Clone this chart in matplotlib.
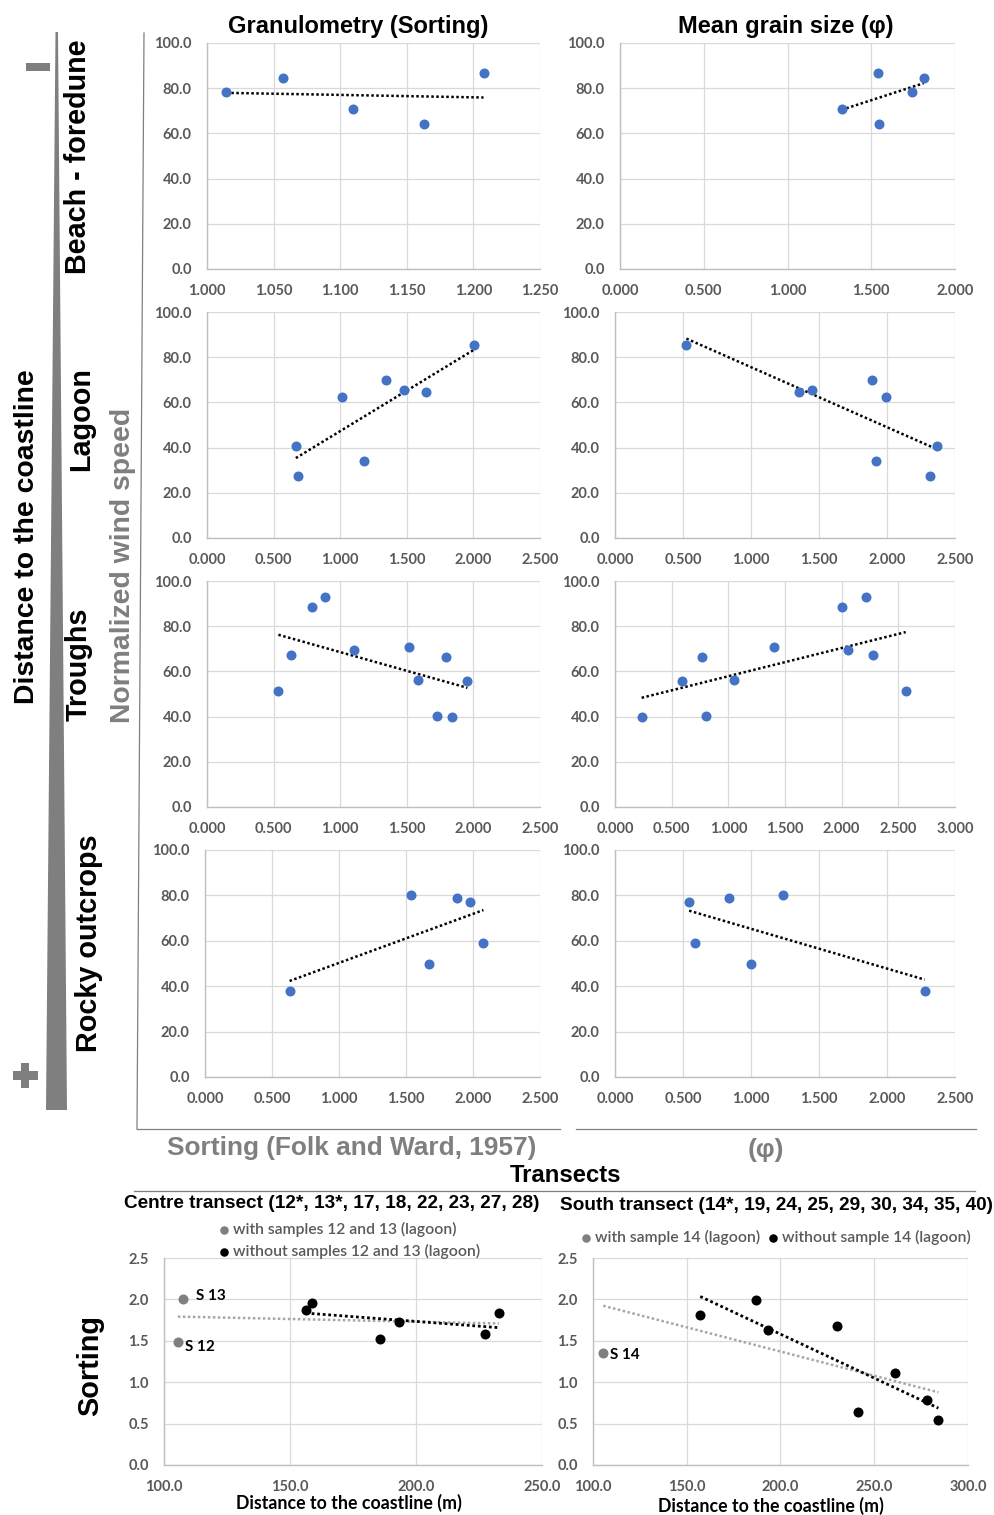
import numpy as np
import matplotlib
matplotlib.use('Agg')
import matplotlib.pyplot as plt
from matplotlib.patches import Polygon, Rectangle
from matplotlib.lines import Line2D

plt.rcParams['font.family'] = ['Liberation Sans', 'DejaVu Sans']

# ---- data: normalized wind speed vs sorting / mean grain size ----
beach_wind = [78.2, 84.7, 70.9, 64.2, 86.6]
beach_sort = [1.0145, 1.0574, 1.1094, 1.1631, 1.2076]
beach_mean = [1.745, 1.813, 1.323, 1.546, 1.538]

lagoon_wind = [40.7, 27.6, 62.5, 34.2, 70.1, 65.3, 64.6, 85.4]
lagoon_sort = [0.667, 0.680, 1.012, 1.178, 1.347, 1.477, 1.646, 2.002]
lagoon_mean = [2.368, 2.316, 1.990, 1.919, 1.890, 1.451, 1.350, 0.525]

trough_wind = [51.2, 67.4, 88.3, 92.9, 69.3, 70.8, 56.2, 40.3, 66.5, 39.7, 55.8]
trough_sort = [0.536, 0.628, 0.786, 0.883, 1.105, 1.516, 1.583, 1.725, 1.797, 1.837, 1.955]
trough_mean = [2.565, 2.276, 2.006, 2.215, 2.053, 1.406, 1.047, 0.800, 0.768, 0.235, 0.591]

rocky_wind = [37.9, 80.1, 50.0, 78.9, 77.2, 59.1]
rocky_sort = [0.631, 1.537, 1.674, 1.880, 1.979, 2.078]
rocky_mean = [2.277, 1.237, 1.001, 0.837, 0.545, 0.591]

# ---- transects: sorting vs distance to coastline ----
centre_lag_dist = [105.5, 107.6]
centre_lag_sort = [1.481, 2.006]
centre_lag_names = ['S 12', 'S 13']
centre_dist = [156.4, 158.6, 185.8, 193.1, 227.5, 232.9]
centre_sort = [1.877, 1.962, 1.517, 1.727, 1.586, 1.841]

south_lag_dist = [105.5]
south_lag_sort = [1.351]
south_lag_names = ['S 14']
south_dist = [157.2, 186.9, 193.5, 230.3, 241.2, 261.2, 278.0, 284.2]
south_sort = [1.806, 1.988, 1.625, 1.677, 0.637, 1.113, 0.790, 0.540]

BLUE = '#4472C4'
TICK = '#595959'
GRID = '#d9d9d9'
GREY = '#7f7f7f'

W, H = 995, 1515
fig = plt.figure(figsize=(W/100, H/100), dpi=100, facecolor='white')


def fx(x):
    return x / W


def fy(y):
    return 1 - y / H


def px_axes(l, t, r, b):
    return fig.add_axes([l/W, 1 - b/H, (r - l)/W, (b - t)/H])


def style_axes(ax, xticks, xfmt, yticks, yfmt, fs=10.5):
    ax.set_xticks(xticks, labels=[xfmt.format(v) for v in xticks],
                  fontfamily='Lato', fontweight='bold', fontsize=fs, color=TICK)
    ax.set_yticks(yticks, labels=[yfmt.format(v) for v in yticks],
                  fontfamily='Lato', fontweight='bold', fontsize=fs, color=TICK)
    ax.set_xlim(xticks[0], xticks[-1])
    ax.set_ylim(yticks[0], yticks[-1])
    ax.tick_params(length=0, pad=11)
    ax.grid(color=GRID, lw=0.9)
    ax.set_axisbelow(True)
    for s in ['top', 'right']:
        ax.spines[s].set_visible(False)
    for s in ['left', 'bottom']:
        ax.spines[s].set_color('#bfbfbf')
        ax.spines[s].set_linewidth(1.0)


def trend(ax, xs, ys, color, lw=1.8):
    k, c = np.polyfit(xs, ys, 1)
    xx = np.array([min(xs), max(xs)])
    ax.plot(xx, k*xx + c, color=color, lw=lw, ls=(0, (1, 1)), zorder=2)


def wind_panel(l, t, r, b, xs, ys, xmax, xmin=0.0, xstep=0.5):
    ax = px_axes(l, t, r, b)
    ax.scatter(xs, ys, s=52, color=BLUE, linewidths=0, zorder=3)
    trend(ax, xs, ys, 'black')
    xt = np.round(np.arange(xmin, xmax + xstep/2, xstep), 3)
    style_axes(ax, xt, '{:.3f}', np.arange(0, 101, 20), '{:.1f}')
    return ax


tops = [43, 312, 581, 850]
bots = [269, 538, 807, 1077]

wind_panel(207, tops[0], 540, bots[0], beach_sort, beach_wind, 1.25, xmin=1.0, xstep=0.05)
wind_panel(620, tops[0], 955, bots[0], beach_mean, beach_wind, 2.0)
wind_panel(207, tops[1], 540, bots[1], lagoon_sort, lagoon_wind, 2.5)
wind_panel(615, tops[1], 955, bots[1], lagoon_mean, lagoon_wind, 2.5)
wind_panel(207, tops[2], 540, bots[2], trough_sort, trough_wind, 2.5)
wind_panel(615, tops[2], 955, bots[2], trough_mean, trough_wind, 3.0)
wind_panel(205, tops[3], 540, bots[3], rocky_sort, rocky_wind, 2.5)
wind_panel(615, tops[3], 955, bots[3], rocky_mean, rocky_wind, 2.5)


# ---- transect panels ----
def transect_panel(l, t, r, b, ld, ls_, lnames, d, s, xmax, offsets):
    ax = px_axes(l, t, r, b)
    h1 = ax.scatter(ld, ls_, s=52, color=GREY, linewidths=0, zorder=3)
    h2 = ax.scatter(d, s, s=52, color='black', linewidths=0, zorder=4)
    trend(ax, list(ld) + list(d), list(ls_) + list(s), '#a6a6a6', lw=1.8)
    trend(ax, d, s, 'black', lw=2.0)
    for name, x, y, off in zip(lnames, ld, ls_, offsets):
        ax.annotate(name, (x, y), xytext=off, textcoords='offset points',
                    fontfamily='Lato', fontweight='bold', fontsize=11,
                    va='center', ha='left')
    xt = np.arange(100, xmax + 1, 50.0)
    style_axes(ax, xt, '{:.1f}', np.arange(0, 2.51, 0.5), '{:.1f}')
    return ax, h1, h2


axc, c1, c2 = transect_panel(164, 1258, 542, 1465, centre_lag_dist, centre_lag_sort,
                             centre_lag_names, centre_dist, centre_sort, 250,
                             [(5, -3), (9, 2)])
axs, s1, s2 = transect_panel(593, 1258, 968, 1465, south_lag_dist, south_lag_sort,
                             south_lag_names, south_dist, south_sort, 300,
                             [(5, -1)])

lprop = {'family': 'Lato', 'size': 11.3, 'weight': 'semibold'}
axc.legend([c1, c2], ['with samples 12 and 13 (lagoon)', 'without samples 12 and 13 (lagoon)'],
           loc='upper left', bbox_to_anchor=(fx(220), fy(1222)), bbox_transform=fig.transFigure,
           frameon=False, prop=lprop, labelcolor=TICK, handlelength=0.5, handletextpad=0.35,
           markerscale=0.85, labelspacing=0.45, borderpad=0, borderaxespad=0)
axs.legend([s1, s2], ['with sample 14 (lagoon)', 'without sample 14 (lagoon)'],
           loc='upper left', bbox_to_anchor=(fx(582), fy(1230)), bbox_transform=fig.transFigure,
           frameon=False, prop=lprop, labelcolor=TICK, handlelength=0.5, handletextpad=0.35,
           markerscale=0.85, ncol=2, columnspacing=0.55, borderpad=0, borderaxespad=0)

fig.text(fx(349), fy(1503), 'Distance to the coastline (m)', fontfamily='Lato',
         fontweight='bold', fontsize=12.8, ha='center', va='center')
fig.text(fx(771), fy(1506), 'Distance to the coastline (m)', fontfamily='Lato',
         fontweight='bold', fontsize=12.8, ha='center', va='center')

# ---- titles and side labels ----
fig.text(fx(358), fy(26), 'Granulometry (Sorting)', fontsize=17, weight='bold', ha='center', va='center')
fig.text(fx(786), fy(27), 'Mean grain size (φ)', fontsize=17, weight='bold', ha='center', va='center')

fig.text(fx(27), fy(537), 'Distance to the coastline', fontsize=20.4, weight='bold',
         rotation=90, ha='center', va='center')
for lab, x, y in [('Beach - foredune', 78, 157), ('Lagoon', 81, 419),
                  ('Troughs', 79, 664), ('Rocky outcrops', 89, 943)]:
    fig.text(fx(x), fy(y), lab, fontsize=20.7, weight='bold', rotation=90, ha='center', va='center')
fig.text(fx(123), fy(565), 'Normalized wind speed', fontsize=20.4, weight='bold', color=GREY,
         rotation=90, ha='center', va='center')
fig.text(fx(352), fy(1148), 'Sorting (Folk and Ward, 1957)', fontsize=18.9, weight='bold',
         color=GREY, ha='center', va='center')
fig.text(fx(766), fy(1150), '(φ)', fontsize=19, weight='bold', color=GREY, ha='center', va='center')
fig.text(fx(566), fy(1176), 'Transects', fontsize=17.2, weight='bold', ha='center', va='center')
fig.text(fx(332), fy(1203), 'Centre transect (12*, 13*, 17, 18, 22, 23, 27, 28)', fontsize=13.7,
         weight='bold', ha='center', va='center')
fig.text(fx(777), fy(1206), 'South transect (14*, 19, 24, 25, 29, 30, 34, 35, 40)', fontsize=13.7,
         weight='bold', ha='center', va='center')
fig.text(fx(90), fy(1366), 'Sorting', fontsize=20.8, weight='bold', rotation=90, ha='center', va='center')

# ---- decorations: gradient wedge, -/+ signs, frame lines ----
wedge = [(55.5, 32), (58, 32), (67, 1110), (46, 1110)]
fig.add_artist(Polygon([(fx(x), fy(y)) for x, y in wedge], closed=True,
                       transform=fig.transFigure, color=GREY, lw=0))
fig.add_artist(Rectangle((fx(26), fy(71)), 24/W, 8/H, transform=fig.transFigure, color=GREY, lw=0))
fig.add_artist(Rectangle((fx(13), fy(1080)), 25/W, 9/H, transform=fig.transFigure, color=GREY, lw=0))
fig.add_artist(Rectangle((fx(21), fy(1088)), 8/W, 25/H, transform=fig.transFigure, color=GREY, lw=0))

for (x0, y0), (x1, y1) in [((144, 33), (137, 1129)), ((137, 1129), (560, 1129)),
                           ((576, 1129), (976, 1129)), ((134, 1191), (975, 1191))]:
    fig.add_artist(Line2D([fx(x0), fx(x1)], [fy(y0), fy(y1)], transform=fig.transFigure,
                          color=GREY, lw=0.9))

fig.savefig('out.png', dpi=100, facecolor='white')
